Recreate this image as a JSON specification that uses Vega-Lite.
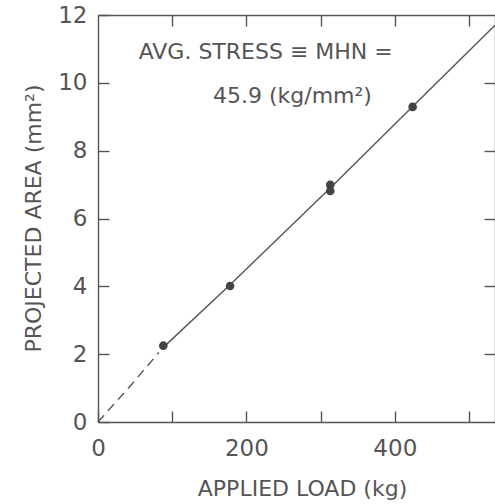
{
  "$schema": "https://vega.github.io/schema/vega-lite/v6.json",
  "width": 397,
  "height": 407,
  "autosize": "none",
  "padding": {"left": 98, "top": 15, "right": 0, "bottom": 82},
  "background": "white",
  "config": {
    "view": {"stroke": null},
    "font": "DejaVu Sans",
    "axis": {
      "domainColor": "#555",
      "domainWidth": 1.4,
      "tickColor": "#555",
      "tickWidth": 1.4,
      "tickSize": -11,
      "grid": false,
      "labelColor": "#555",
      "labelFont": "DejaVu Sans",
      "labelFontSize": 23,
      "labelFlush": false,
      "labelOverlap": false,
      "titleColor": "#555",
      "titleFont": "DejaVu Sans",
      "titleFontWeight": "normal",
      "titleFontSize": 22
    }
  },
  "datasets": {
    "points": [
      {"load": 88, "area": 2.25},
      {"load": 178, "area": 4.01},
      {"load": 313, "area": 6.99},
      {"load": 313, "area": 6.81},
      {"load": 424, "area": 9.29}
    ],
    "dashed": [
      {"load": 0, "area": 0},
      {"load": 45, "area": 1.1},
      {"load": 82, "area": 2.05}
    ],
    "solid": [
      {"load": 88, "area": 2.2},
      {"load": 178, "area": 4.05},
      {"load": 313, "area": 6.9},
      {"load": 424, "area": 9.3},
      {"load": 535, "area": 11.7}
    ],
    "notes": [
      {"load": 226, "area": 10.9, "label": "AVG. STRESS ≡ MHN ="},
      {"load": 262, "area": 9.6, "label": "45.9 (kg/mm²)"}
    ]
  },
  "layer": [
    {
      "data": {"name": "dashed"},
      "mark": {"type": "line", "color": "#555", "strokeWidth": 1.4, "strokeDash": [9, 6]},
      "encoding": {
        "x": {
          "field": "load", "type": "quantitative",
          "scale": {"domain": [0, 535], "nice": false, "zero": false},
          "axis": {
            "orient": "bottom",
            "values": [0, 100, 200, 300, 400, 500],
            "labelExpr": "datum.value % 200 == 0 ? datum.label : ''",
            "labelPadding": 26,
            "title": "APPLIED LOAD (kg)",
            "titleX": 204,
            "titleY": 73,
            "titleBaseline": "alphabetic",
            "titleAlign": "center",
            "titleAnchor": null
          }
        },
        "y": {
          "field": "area", "type": "quantitative",
          "scale": {"domain": [0, 12], "nice": false, "zero": false},
          "axis": {
            "orient": "left",
            "values": [0, 2, 4, 6, 8, 10, 12],
            "labelPadding": 22,
            "title": "PROJECTED AREA (mm²)",
            "titleX": -58,
            "titleY": 203,
            "titleAngle": -90,
            "titleBaseline": "alphabetic",
            "titleAlign": "center",
            "titleAnchor": null
          }
        }
      }
    },
    {
      "data": {"name": "solid"},
      "mark": {"type": "line", "color": "#555", "strokeWidth": 1.4},
      "encoding": {
        "x": {
          "field": "load", "type": "quantitative",
          "scale": {"domain": [0, 535], "nice": false, "zero": false},
          "axis": {"orient": "top", "values": [100, 200, 300, 400, 500], "labels": false, "title": null}
        },
        "y": {
          "field": "area", "type": "quantitative",
          "scale": {"domain": [0, 12], "nice": false, "zero": false},
          "axis": {"orient": "right", "values": [2, 4, 6, 8, 10], "labels": false, "title": null}
        }
      }
    },
    {
      "data": {"name": "points"},
      "mark": {"type": "circle", "color": "#444", "opacity": 1, "size": 75},
      "encoding": {
        "x": {"field": "load", "type": "quantitative", "axis": null},
        "y": {"field": "area", "type": "quantitative", "axis": null}
      }
    },
    {
      "data": {"name": "notes"},
      "mark": {"type": "text", "color": "#555", "fontSize": 22, "font": "DejaVu Sans", "align": "center", "baseline": "middle"},
      "encoding": {
        "x": {"field": "load", "type": "quantitative", "axis": null},
        "y": {"field": "area", "type": "quantitative", "axis": null},
        "text": {"field": "label"}
      }
    }
  ],
  "resolve": {"axis": {"x": "independent", "y": "independent"}}
}
